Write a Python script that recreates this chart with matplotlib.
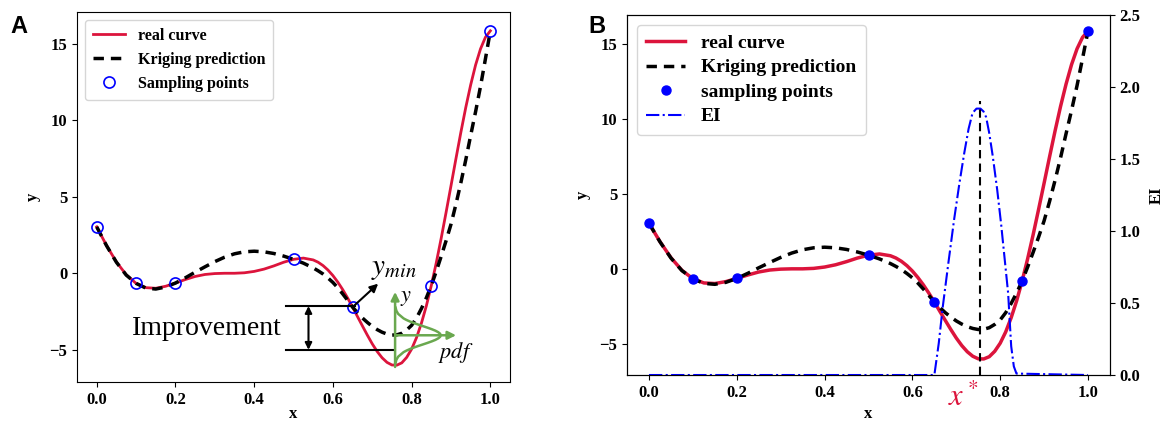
import numpy as np
import matplotlib
matplotlib.use("Agg")
import matplotlib.pyplot as plt

plt.rcParams['font.family'] = ['Liberation Serif', 'DejaVu Serif']
plt.rcParams['axes.labelweight'] = 'bold'
plt.rcParams['mathtext.fontset'] = 'stix'

# x positions the curves were read at: 0.025 steps up to 0.55, then 0.0125 steps
x_grid = np.concatenate([np.linspace(0, 0.55, 23), np.linspace(0.5625, 1.0, 36)])

# real curve
y_real = [3.03, 1.81, 0.74, -0.10, -0.66, -0.94, -0.98, -0.85, -0.64, -0.41,
          -0.21, -0.08, -0.02, 0.00, 0.00, 0.03, 0.12, 0.27, 0.48, 0.72,
          0.91, 0.99, 0.87,
          0.72, 0.50, 0.21, -0.15, -0.58, -1.07, -1.62, -2.21, -2.83, -3.44,
          -4.04, -4.61, -5.11, -5.52, -5.82, -5.99, -6.00, -5.85, -5.49, -4.95,
          -4.20, -3.25, -2.12, -0.80, 0.67, 2.27, 3.97, 5.71, 7.47, 9.19,
          10.82, 12.30, 13.60, 14.65, 15.41, 15.83]

# kriging prediction
y_krig = [3.03, 1.80, 0.72, -0.12, -0.66, -0.97, -1.03, -0.90, -0.64, -0.30,
          0.07, 0.42, 0.76, 1.05, 1.27, 1.40, 1.44, 1.40, 1.29, 1.12,
          0.91, 0.66, 0.35,
          0.16, -0.05, -0.31, -0.60, -0.95, -1.35, -1.77, -2.21, -2.58, -2.92,
          -3.21, -3.47, -3.68, -3.85, -3.97, -4.04, -4.02, -3.92, -3.70, -3.40,
          -2.92, -2.30, -1.60, -0.80, 0.12, 1.10, 2.12, 3.20, 4.50, 5.90,
          7.40, 9.00, 10.55, 12.20, 14.00, 15.83]

# sampling points
x_samp = [0.0, 0.1, 0.2, 0.5, 0.65, 0.85, 1.0]
y_samp = [3.03, -0.66, -0.64, 0.91, -2.21, -0.80, 15.83]

# expected improvement
x_ei = [0.0, 0.65, 0.660, 0.669, 0.682, 0.695, 0.707, 0.718, 0.728, 0.737,
        0.746, 0.755, 0.762, 0.768, 0.775, 0.783, 0.793, 0.802, 0.810, 0.818,
        0.825, 0.831, 0.837, 1.0]
ei = [0.0, 0.0, 0.22, 0.47, 0.78, 1.08, 1.33, 1.54, 1.71, 1.82,
      1.85, 1.85, 1.83, 1.79, 1.68, 1.52, 1.29, 1.05, 0.81, 0.57,
      0.20, 0.06, 0.01, 0.0]

# pdf sketch in panel A: offsets along y and widths
bell_dy = [-1.8, -1.6, -1.4, -1.1, -1.0, -0.9, -0.8, -0.7, -0.6, -0.5, -0.4, -0.3, -0.2, -0.1, 0.0,
           0.1, 0.2, 0.3, 0.4, 0.5, 0.6, 0.7, 0.8, 0.9, 1.0, 1.1, 1.4, 1.6, 1.8]
bell_w = [0.0013, 0.0033, 0.0077, 0.0216, 0.0289, 0.0377, 0.0477, 0.0587, 0.0704, 0.082, 0.0929, 0.1024, 0.1097, 0.1144, 0.116,
          0.1144, 0.1097, 0.1024, 0.0929, 0.082, 0.0704, 0.0587, 0.0477, 0.0377, 0.0289, 0.0216, 0.0077, 0.0033, 0.0013]

red = '#dc143c'
green = '#6aa84f'
blue = '#0000ff'


def bold_ticks(ax):
    for lbl in ax.get_xticklabels() + ax.get_yticklabels():
        lbl.set_fontweight('bold')


fig = plt.figure(figsize=(11.69, 4.25), dpi=100)

# ---------------- panel A
ax1 = fig.add_axes([0.0659, 0.1012, 0.3704, 0.8706])
ax1.plot(x_grid, y_real, color=red, lw=2, label='real curve')
ax1.plot(x_grid, y_krig, 'k--', lw=2.5, dashes=(3, 2), label='Kriging prediction')
ax1.plot(x_samp, y_samp, 'o', mfc='none', mec=blue, ms=8, mew=1.2, ls='none', label='Sampling points')
ax1.set_xlim(-0.05, 1.05)
ax1.set_ylim(-7.1, 17.06)
ax1.set_xticks([0.0, 0.2, 0.4, 0.6, 0.8, 1.0])
ax1.set_yticks([-5, 0, 5, 10, 15])
ax1.set_xlabel('x', fontsize=12, labelpad=-1)
ax1.set_ylabel('y', fontsize=12, labelpad=6)
ax1.tick_params(labelsize=12)
bold_ticks(ax1)
ax1.legend(loc='upper left', prop={'size': 11.5, 'weight': 'bold'}, borderpad=0.5, labelspacing=0.5)

# improvement annotation
ax1.plot([0.482, 0.655], [-2.14, -2.14], 'k', lw=1.5)
ax1.plot([0.482, 0.756], [-5.0, -5.0], 'k', lw=1.5)
ax1.annotate('', xy=(0.538, -2.14), xytext=(0.538, -5.0),
             arrowprops=dict(arrowstyle='<|-|>', color='k', lw=1.5, mutation_scale=10,
                             shrinkA=0, shrinkB=0))
ax1.text(0.28, -3.6, 'Improvement', fontsize=20, ha='center', va='center')
ax1.annotate('', xy=(0.715, -0.68), xytext=(0.65, -2.21),
             arrowprops=dict(arrowstyle='-|>', color='k', lw=1.5, mutation_scale=12,
                             shrinkA=0, shrinkB=0))
ax1.text(0.755, 0.25, '$y_{min}$', fontsize=21, ha='center', va='center')

# pdf sketch
ax1.annotate('', xy=(0.758, -1.22), xytext=(0.758, -6.12),
             arrowprops=dict(arrowstyle='-|>', color=green, lw=1.8, mutation_scale=12,
                             shrinkA=0, shrinkB=0))
ax1.annotate('', xy=(0.913, -4.05), xytext=(0.758, -4.05),
             arrowprops=dict(arrowstyle='-|>', color=green, lw=1.8, mutation_scale=12,
                             shrinkA=0, shrinkB=0))
ax1.plot([0.758 + w for w in bell_w], [-4.05 + d for d in bell_dy], color=green, lw=1.8)
ax1.text(0.786, -1.66, '$y$', fontsize=16, ha='center', va='center')
ax1.text(0.913, -5.2, '$pdf$', fontsize=16, ha='center', va='center')

fig.text(0.009, 0.965, 'A', fontsize=17, fontweight='bold', family='Liberation Sans', va='top')

# ---------------- panel B
ax2 = fig.add_axes([0.5364, 0.1176, 0.4131, 0.8471])
ax2.plot(x_grid, y_real, color=red, lw=2.5, label='real curve')
ax2.plot(x_grid, y_krig, 'k--', lw=2.5, dashes=(3, 2), label='Kriging prediction')
ax2.plot(x_samp, y_samp, 'o', color=blue, ms=6.5, ls='none', label='sampling points')
ax2.set_xlim(-0.05, 1.05)
ax2.set_ylim(-7.07, 16.9)
ax2.set_xticks([0.0, 0.2, 0.4, 0.6, 0.8, 1.0])
ax2.set_yticks([-5, 0, 5, 10, 15])
ax2.set_xlabel('x', fontsize=12)
ax2.set_ylabel('y', fontsize=12, labelpad=6)
ax2.tick_params(labelsize=12)
bold_ticks(ax2)

ax3 = ax2.twinx()
ax3.plot(x_ei, ei, color=blue, ls='-.', lw=1.5, label='EI')
ax3.plot([0.755, 0.755], [0, 1.9], 'k--', lw=1.5, dashes=(4, 2.5))
ax3.set_ylim(0, 2.5)
ax3.set_yticks([0.0, 0.5, 1.0, 1.5, 2.0, 2.5])
ax3.set_ylabel('EI', fontsize=12, labelpad=6)
ax3.tick_params(labelsize=12)
bold_ticks(ax3)

h1, l1 = ax2.get_legend_handles_labels()
h2, l2 = ax3.get_legend_handles_labels()
ax2.legend(h1 + h2, l1 + l2, loc='upper left', prop={'size': 14, 'weight': 'bold'},
           borderpad=0.5, labelspacing=0.35)

ax2.text(0.716, -0.065, '$x^*$', transform=ax2.get_xaxis_transform(), color=red,
         fontsize=22, ha='center', va='center')

fig.text(0.503, 0.965, 'B', fontsize=17, fontweight='bold', family='Liberation Sans', va='top')

fig.savefig('out.png', dpi=100)
